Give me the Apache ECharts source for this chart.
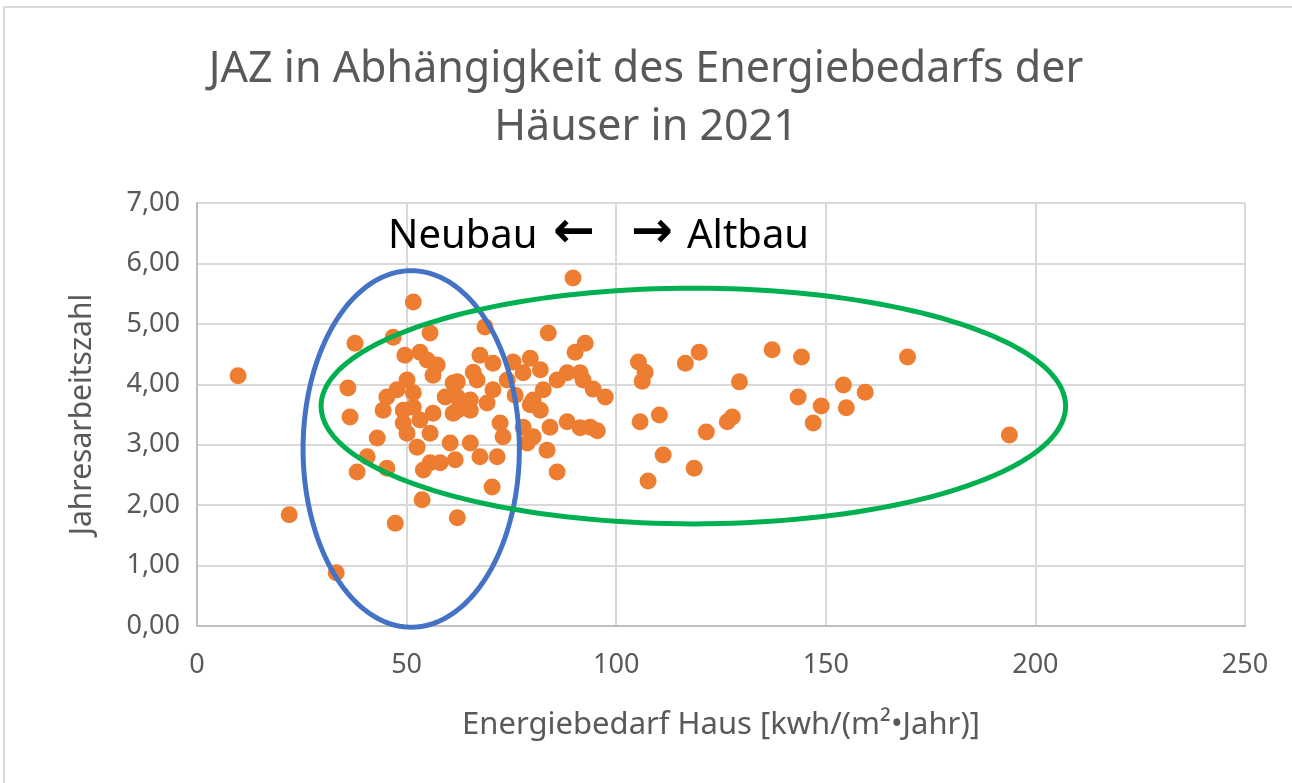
<!DOCTYPE html>
<html>
<head>
<meta charset="utf-8">
<script src="https://cdn.jsdelivr.net/npm/echarts@6/dist/echarts.min.js"></script>
<style>html,body{margin:0;padding:0;background:#fff}#c{width:1292px;height:783px}</style>
</head>
<body>
<div id="c"></div>
<script>
// Energiebedarf Haus [kWh/(m²·Jahr)]
const energy = [9.8,22.0,33.2,36.0,36.5,37.7,38.2,40.6,43.0,44.4,45.3,45.3,47.7,47.3,46.8,51.6,49.6,53.2,54.9,57.3,55.6,56.3,50.1,51.6,61.1,59.2,49.2,51.6,56.3,49.2,53.2,55.6,50.1,52.5,55.6,54.0,58.0,61.1,60.4,53.7,62.1,62.1,65.2,72.3,73.0,71.6,67.5,65.2,61.6,70.4,85.9,83.5,80.2,84.2,88.3,91.4,79.5,81.9,77.8,78.8,68.7,83.8,89.7,90.2,92.6,67.5,66.8,62.1,70.6,75.4,79.5,81.9,77.8,74.0,85.9,88.3,91.4,70.6,65.2,62.1,82.6,80.2,69.2,92.1,94.5,97.4,93.8,95.5,65.9,75.9,105.3,106.9,106.2,105.7,107.6,110.3,111.2,118.6,121.5,116.5,119.8,126.5,127.7,129.4,137.2,143.4,144.2,147.0,148.9,154.2,154.9,159.4,169.5,193.8];
// Jahresarbeitszahl
const jaz = [4.14,1.84,0.88,3.94,3.46,4.68,2.55,2.80,3.11,3.57,2.61,3.79,3.91,1.70,4.78,5.36,4.48,4.53,4.40,4.32,4.85,4.15,4.07,3.86,4.02,3.79,3.57,3.62,3.52,3.36,3.41,3.19,3.19,2.96,2.70,2.58,2.70,3.52,3.03,2.09,1.79,3.57,3.57,3.36,3.13,2.80,2.80,3.03,2.75,2.30,2.55,2.91,3.13,3.29,3.38,3.28,3.66,3.57,3.29,3.03,4.95,4.85,5.76,4.53,4.68,4.48,4.07,4.04,4.35,4.37,4.43,4.24,4.19,4.07,4.07,4.19,4.19,3.91,3.74,3.79,3.91,3.74,3.69,4.07,3.92,3.79,3.29,3.23,4.20,3.82,4.37,4.20,4.05,3.38,2.40,3.49,2.83,2.61,3.21,4.35,4.53,3.38,3.46,4.04,4.57,3.79,4.45,3.36,3.64,3.99,3.61,3.87,4.45,3.16];

const titleText = 'JAZ in Abhängigkeit des Energiebedarfs der\nHäuser in 2021';
const xName = 'Energiebedarf Haus [kwh/(m²•Jahr)]';
const yName = 'Jahresarbeitszahl';
const leftWord = 'Neubau';
const rightWord = 'Altbau';
const leftArrow = '\u2190';
const rightArrow = '\u2192';
// annotation ellipses in data units: [cx, cy, rx, ry]
const blueEllipse = [51.1, 2.93, 25.8, 2.95];
const greenEllipse = [118.4, 3.64, 88.8, 1.95];

const points = energy.map((e, i) => [e, jaz[i]]);
const chart = echarts.init(document.getElementById('c'));
const font = '"Noto Sans", "Open Sans", sans-serif';

chart.setOption({
  animation: false,
  title: {
    text: titleText, left: 'center', top: 36,
    textStyle: { fontFamily: font, fontWeight: 'normal', fontSize: 43, color: '#595959', lineHeight: 58 }
  },
  grid: { left: 197, right: 47, top: 203, bottom: 157 },
  xAxis: {
    type: 'value', min: 0, max: 250, interval: 50,
    name: xName, nameLocation: 'middle', nameGap: 84,
    nameTextStyle: { fontFamily: font, fontSize: 31, color: '#595959' },
    axisLine: { show: true, lineStyle: { color: '#bfbfbf', width: 2 } },
    axisTick: { show: false },
    axisLabel: { fontFamily: font, fontSize: 27, color: '#595959', margin: 26 },
    splitLine: { show: true, lineStyle: { color: '#d9d9d9', width: 2 } }
  },
  yAxis: {
    type: 'value', min: 0, max: 7, interval: 1,
    name: yName, nameLocation: 'middle', nameGap: 100, nameRotate: 90,
    nameTextStyle: { fontFamily: font, fontSize: 30, color: '#595959' },
    axisLine: { show: true, lineStyle: { color: '#bfbfbf', width: 2 } },
    axisTick: { show: false },
    axisLabel: { fontFamily: font, fontSize: 27, color: '#595959', margin: 17,
      formatter: v => v.toFixed(2).replace('.', ',') },
    splitLine: { show: true, lineStyle: { color: '#d9d9d9', width: 2 } }
  },
  series: [{
    type: 'scatter', data: points, symbolSize: 17,
    itemStyle: { color: '#ED7D31', opacity: 1 }
  }]
});

function ellipsePoly(e) {
  const pts = [];
  for (let k = 0; k < 180; k++) {
    const t = k / 180 * Math.PI * 2;
    pts.push(chart.convertToPixel({ gridIndex: 0 }, [e[0] + e[2] * Math.cos(t), e[1] + e[3] * Math.sin(t)]));
  }
  return pts;
}

const noteFont = '40px "Noto Sans", sans-serif';
const arrowFont = 'bold 50px "DejaVu Sans", sans-serif';
chart.setOption({
  graphic: [
    { type: 'rect', shape: { x: 4, y: 7, width: 1320, height: 800 }, style: { fill: 'none', stroke: '#d9d9d9', lineWidth: 2 }, z: -10 },
    { type: 'polygon', shape: { points: ellipsePoly(blueEllipse) }, style: { fill: 'none', stroke: '#4472C4', lineWidth: 5 }, z: 100 },
    { type: 'polygon', shape: { points: ellipsePoly(greenEllipse) }, style: { fill: 'none', stroke: '#00B050', lineWidth: 5 }, z: 100 },
    { type: 'text', x: 388, y: 237, style: { text: leftWord, font: noteFont, fill: '#000', verticalAlign: 'middle' }, z: 100 },
    { type: 'text', x: 553, y: 234, style: { text: leftArrow, font: arrowFont, fill: '#000', verticalAlign: 'middle' }, z: 100 },
    { type: 'text', x: 631, y: 234, style: { text: rightArrow, font: arrowFont, fill: '#000', verticalAlign: 'middle' }, z: 100 },
    { type: 'text', x: 687, y: 237, style: { text: rightWord, font: noteFont, fill: '#000', verticalAlign: 'middle' }, z: 100 }
  ]
});
</script>
</body>
</html>
